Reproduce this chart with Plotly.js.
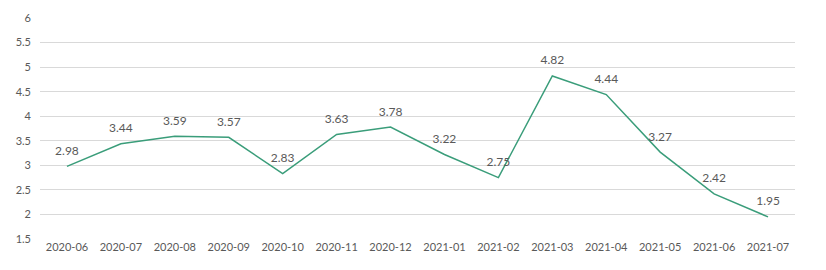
<!DOCTYPE html>
<html>
<head>
<meta charset="utf-8">
<script src="https://cdn.plot.ly/plotly-3.0.1.min.js"></script>
<style>
  html, body { margin: 0; padding: 0; background: #ffffff; }
  #chart { width: 826px; height: 270px; }
</style>
</head>
<body>
<div id="chart"></div>
<script>
// Monthly values, June 2020 to July 2021
const months = ['2020-06', '2020-07', '2020-08', '2020-09', '2020-10', '2020-11', '2020-12',
                '2021-01', '2021-02', '2021-03', '2021-04', '2021-05', '2021-06', '2021-07'];
const values = [2.98, 3.44, 3.59, 3.57, 2.83, 3.63, 3.78, 3.22, 2.75, 4.82, 4.44, 3.27, 2.42, 1.95];
const yTicks = [1.5, 2, 2.5, 3, 3.5, 4, 4.5, 5, 5.5, 6];

const textFont = { family: 'Lato, "Open Sans", sans-serif', size: 11, color: '#595959' };
const labelFont = { family: 'Lato, "Open Sans", sans-serif', size: 12, color: '#595959' };

const trace = {
  type: 'scatter',
  mode: 'lines+markers+text',
  x: months,
  y: values,
  text: values.map(v => v.toFixed(2)),
  textposition: 'top center',
  textfont: labelFont,
  // transparent markers only push the value labels up off the line
  marker: { size: 12, color: 'rgba(0,0,0,0)' },
  line: { color: '#3a9d7a', width: 1.5 },
  cliponaxis: false,
  hoverinfo: 'x+y'
};

const layout = {
  width: 826,
  height: 270,
  margin: { l: 40, r: 31, t: 18, b: 31 },
  paper_bgcolor: '#ffffff',
  plot_bgcolor: '#ffffff',
  showlegend: false,
  font: textFont,
  xaxis: {
    type: 'category',
    range: [-0.5, months.length - 0.5],
    showgrid: false,
    zeroline: false,
    showline: false,
    ticks: '',
    tickfont: textFont,
    fixedrange: true
  },
  yaxis: {
    range: [1.5, 6],
    tickvals: yTicks,
    ticktext: yTicks.map(String),
    showgrid: true,
    gridcolor: '#d9d9d9',
    gridwidth: 1,
    zeroline: false,
    showline: false,
    ticks: '',
    ticklabelstandoff: 8,
    tickfont: textFont,
    fixedrange: true
  }
};

Plotly.newPlot('chart', [trace], layout, { displayModeBar: false, staticPlot: true });
</script>
</body>
</html>
